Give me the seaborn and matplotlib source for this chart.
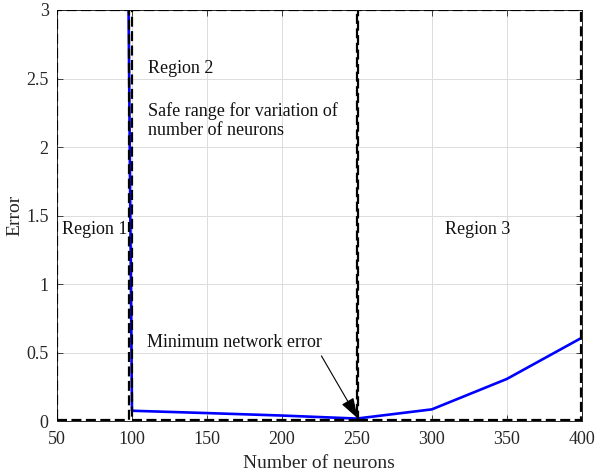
import matplotlib
matplotlib.use("Agg")
import matplotlib.pyplot as plt
import seaborn as sns
import pandas as pd
from matplotlib.patches import Rectangle

neurons = [50, 100, 150, 200, 250, 300, 350, 400]
error = [65.0, 0.075, 0.058, 0.040, 0.018, 0.085, 0.307, 0.608]

regions_x = [(50, 98), (100, 250), (251, 399.8)]
region_y = (0.01, 3.0)

xticks = [50, 100, 150, 200, 250, 300, 350, 400]
yticks = [0, 0.5, 1, 1.5, 2, 2.5, 3]
ytick_labels = ["0", "0.5", "1", "1.5", "2", "2.5", "3"]

sns.set_theme(style="whitegrid")
plt.rcParams['font.family'] = ['Liberation Serif', 'DejaVu Serif']

fig = plt.figure(figsize=(5.95, 4.76), dpi=100)
ax = fig.add_axes([0.0958, 0.1155, 0.882, 0.8635])

df = pd.DataFrame({"Number of neurons": neurons, "Error": error})
sns.lineplot(data=df, x="Number of neurons", y="Error", ax=ax, color="#0000ff",
             linewidth=1.9, zorder=3)

for (x0, x1) in regions_x:
    r = Rectangle((x0, region_y[0]), x1 - x0, region_y[1] - region_y[0], fill=False,
                  edgecolor="black", linestyle=(0, (4.5, 2)), linewidth=1.6, zorder=4)
    ax.add_patch(r)

fs = 13
ax.set_xlim(50, 400)
ax.set_ylim(0, 3)
ax.set_xticks(xticks)
ax.set_yticks(yticks)
ax.set_yticklabels(ytick_labels)
ax.set_xlabel("Number of neurons", fontsize=14, color="#262626", labelpad=5)
ax.set_ylabel("Error", fontsize=14, color="#262626", labelpad=2)
ax.tick_params(axis="both", which="both", direction="in", length=4, width=0.6,
               labelsize=fs, colors="#262626", top=True, right=True,
               bottom=True, left=True)
ax.tick_params(axis="x", pad=7)
ax.tick_params(axis="y", pad=6)
ax.grid(True, color="#dcdcdc", linewidth=0.7)
ax.set_facecolor("white")
for s in ax.spines.values():
    s.set_color("#262626")
    s.set_linewidth(0.7)

ax.text(53.3, 1.40, "Region 1", fontsize=fs, va="center", ha="left", color="#111111")
ax.text(110.7, 2.57, "Region 2", fontsize=fs, va="center", ha="left", color="#111111")
ax.text(110.7, 2.19, "Safe range for variation of\nnumber of neurons", fontsize=fs,
        va="center", ha="left", linespacing=1.15, color="#111111")
ax.text(309, 1.40, "Region 3", fontsize=fs, va="center", ha="left", color="#111111")
ax.annotate("Minimum network error", xy=(250.5, 0.02), xytext=(110, 0.57),
            fontsize=fs, va="center", ha="left", color="#111111",
            arrowprops=dict(arrowstyle="-|>,head_length=0.9,head_width=0.3",
                            color="black", lw=0.8,
                            mutation_scale=14, shrinkA=1, shrinkB=0,
                            relpos=(0.98, 0.05)))

fig.savefig("out.png", dpi=100)
